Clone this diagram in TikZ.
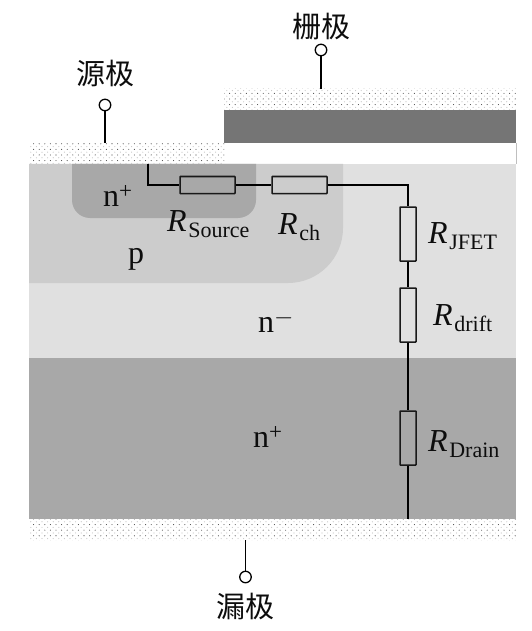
\documentclass[tikz,border=0pt]{standalone}
\usepackage{fontspec}
\setmainfont{Liberation Serif}
\newfontfamily\cjk{Noto Sans CJK SC}
\usetikzlibrary{patterns.meta}
\newcommand{\Rlab}[1]{\textit{R}\kern0.05em\raisebox{-0.2em}{\fontsize{22}{22}\selectfont #1}}
\newcommand{\dopehi}[1]{n\raisebox{0.24em}{\fontsize{23}{23}\selectfont #1}}
\tikzset{
  x=1pt,y=-1pt,
  metala/.style={pattern={Dots[distance=5.6pt,radius=0.55pt]},pattern color=black!70},
  metalb/.style={pattern={Dots[distance=5.6pt,radius=0.6pt,xshift=2.8pt,yshift=2.8pt]},pattern color=black!22},
  res/.style={draw=black!90,line width=1.5pt,minimum width=55pt,minimum height=17pt,inner sep=0pt,rounded corners=0.5pt},
  resv/.style={draw=black!90,line width=1.5pt,minimum width=16pt,minimum height=54pt,inner sep=0pt,rounded corners=0.5pt},
  wire/.style={draw=black,line width=1.5pt},
  term/.style={circle,draw=black,fill=white,line width=1.3pt,minimum size=11.5pt,inner sep=0pt},
  lab/.style={font=\fontsize{32}{32}\selectfont,inner sep=0pt,text=black!95},
  cjklab/.style={font=\cjk\fontsize{29}{29}\selectfont,inner sep=0pt,text=black!95}
}
\begin{document}
\begin{tikzpicture}
\useasboundingbox (0,0) rectangle (532,631);
\fill[white] (0,0) rectangle (532,631);
% body
\fill[black!12] (29,164) rectangle (516,358);
\fill[black!34] (29,358) rectangle (516,519);
\fill[black!20] (29,164) -- (343,164) -- (343,228) arc[start angle=0,end angle=90,radius=55] -- (29,283) -- cycle;
\fill[black!34] (72,164) -- (256,164) -- (256,200) arc[start angle=0,end angle=90,radius=18] -- (90,218) arc[start angle=90,end angle=180,radius=18] -- cycle;
% gate
\fill[black!54] (224,110) rectangle (516,143);
\draw[black!25,line width=0.8pt] (516,143) -- (516,164);
% metals
\fill[metalb] (29,143) rectangle (224,164);
\fill[metala] (29,143) rectangle (224,164);
\fill[metalb] (224,89) rectangle (516,110);
\fill[metala] (224,89) rectangle (516,110);
\fill[metalb] (29,519) rectangle (516,540);
\fill[metala] (29,519) rectangle (516,540);
% anchors
\coordinate (wstart) at (148,164);
\coordinate (wbend) at (148,185);
\coordinate (wcorner) at (408,185);
\coordinate (wend) at (408,519);
\coordinate (smetal) at (105,143);
\coordinate (gmetal) at (321,89);
\coordinate (dmetal) at (245.5,540);
% resistors
\node[res] (rs) at (207.5,185) {};
\node[res] (rc) at (299.5,185) {};
\node[resv] (rj) at (408,234) {};
\node[resv] (rd) at (408,315) {};
\node[resv] (rn) at (408,438) {};
% wires
\draw[wire] (wstart) -- (wbend) -- (rs.west);
\draw[wire] (rs.east) -- (rc.west);
\draw[wire] (rc.east) -- (wcorner) -- (rj.north);
\draw[wire] (rj.south) -- (rd.north);
\draw[wire] (rd.south) -- (rn.north);
\draw[wire] (rn.south) -- (wend);
% terminals
\node[term] (ts) at (105,105) {};
\node[term] (tg) at (321,50) {};
\node[term] (td) at (245.5,577) {};
\draw[wire] (ts) -- (smetal);
\draw[wire] (tg) -- (gmetal);
\draw[wire] (td) -- (dmetal);
% labels
\node[cjklab] (ls) at (105,73) {源极};
\node[cjklab] (lg) at (321,27) {栅极};
\node[cjklab] (ld) at (245.5,606) {漏极};
\node[lab,anchor=base west] (n1) at (103,206) {\dopehi{+}};
\node[lab,anchor=base west] (pl) at (128,263) {p};
\node[lab,anchor=base west] (n2) at (258,332) {\dopehi{$-$}};
\node[lab,anchor=base west] (n3) at (253,447) {\dopehi{+}};
\node[lab,anchor=base west] (l1) at (167,231) {\Rlab{Source}};
\node[lab,anchor=base west] (l2) at (278,234) {\Rlab{ch}};
\node[lab,anchor=base west] (l3) at (428,243) {\Rlab{JFET}};
\node[lab,anchor=base west] (l4) at (433,325) {\Rlab{drift}};
\node[lab,anchor=base west] (l5) at (428,451) {\Rlab{Drain}};
\end{tikzpicture}
\end{document}
